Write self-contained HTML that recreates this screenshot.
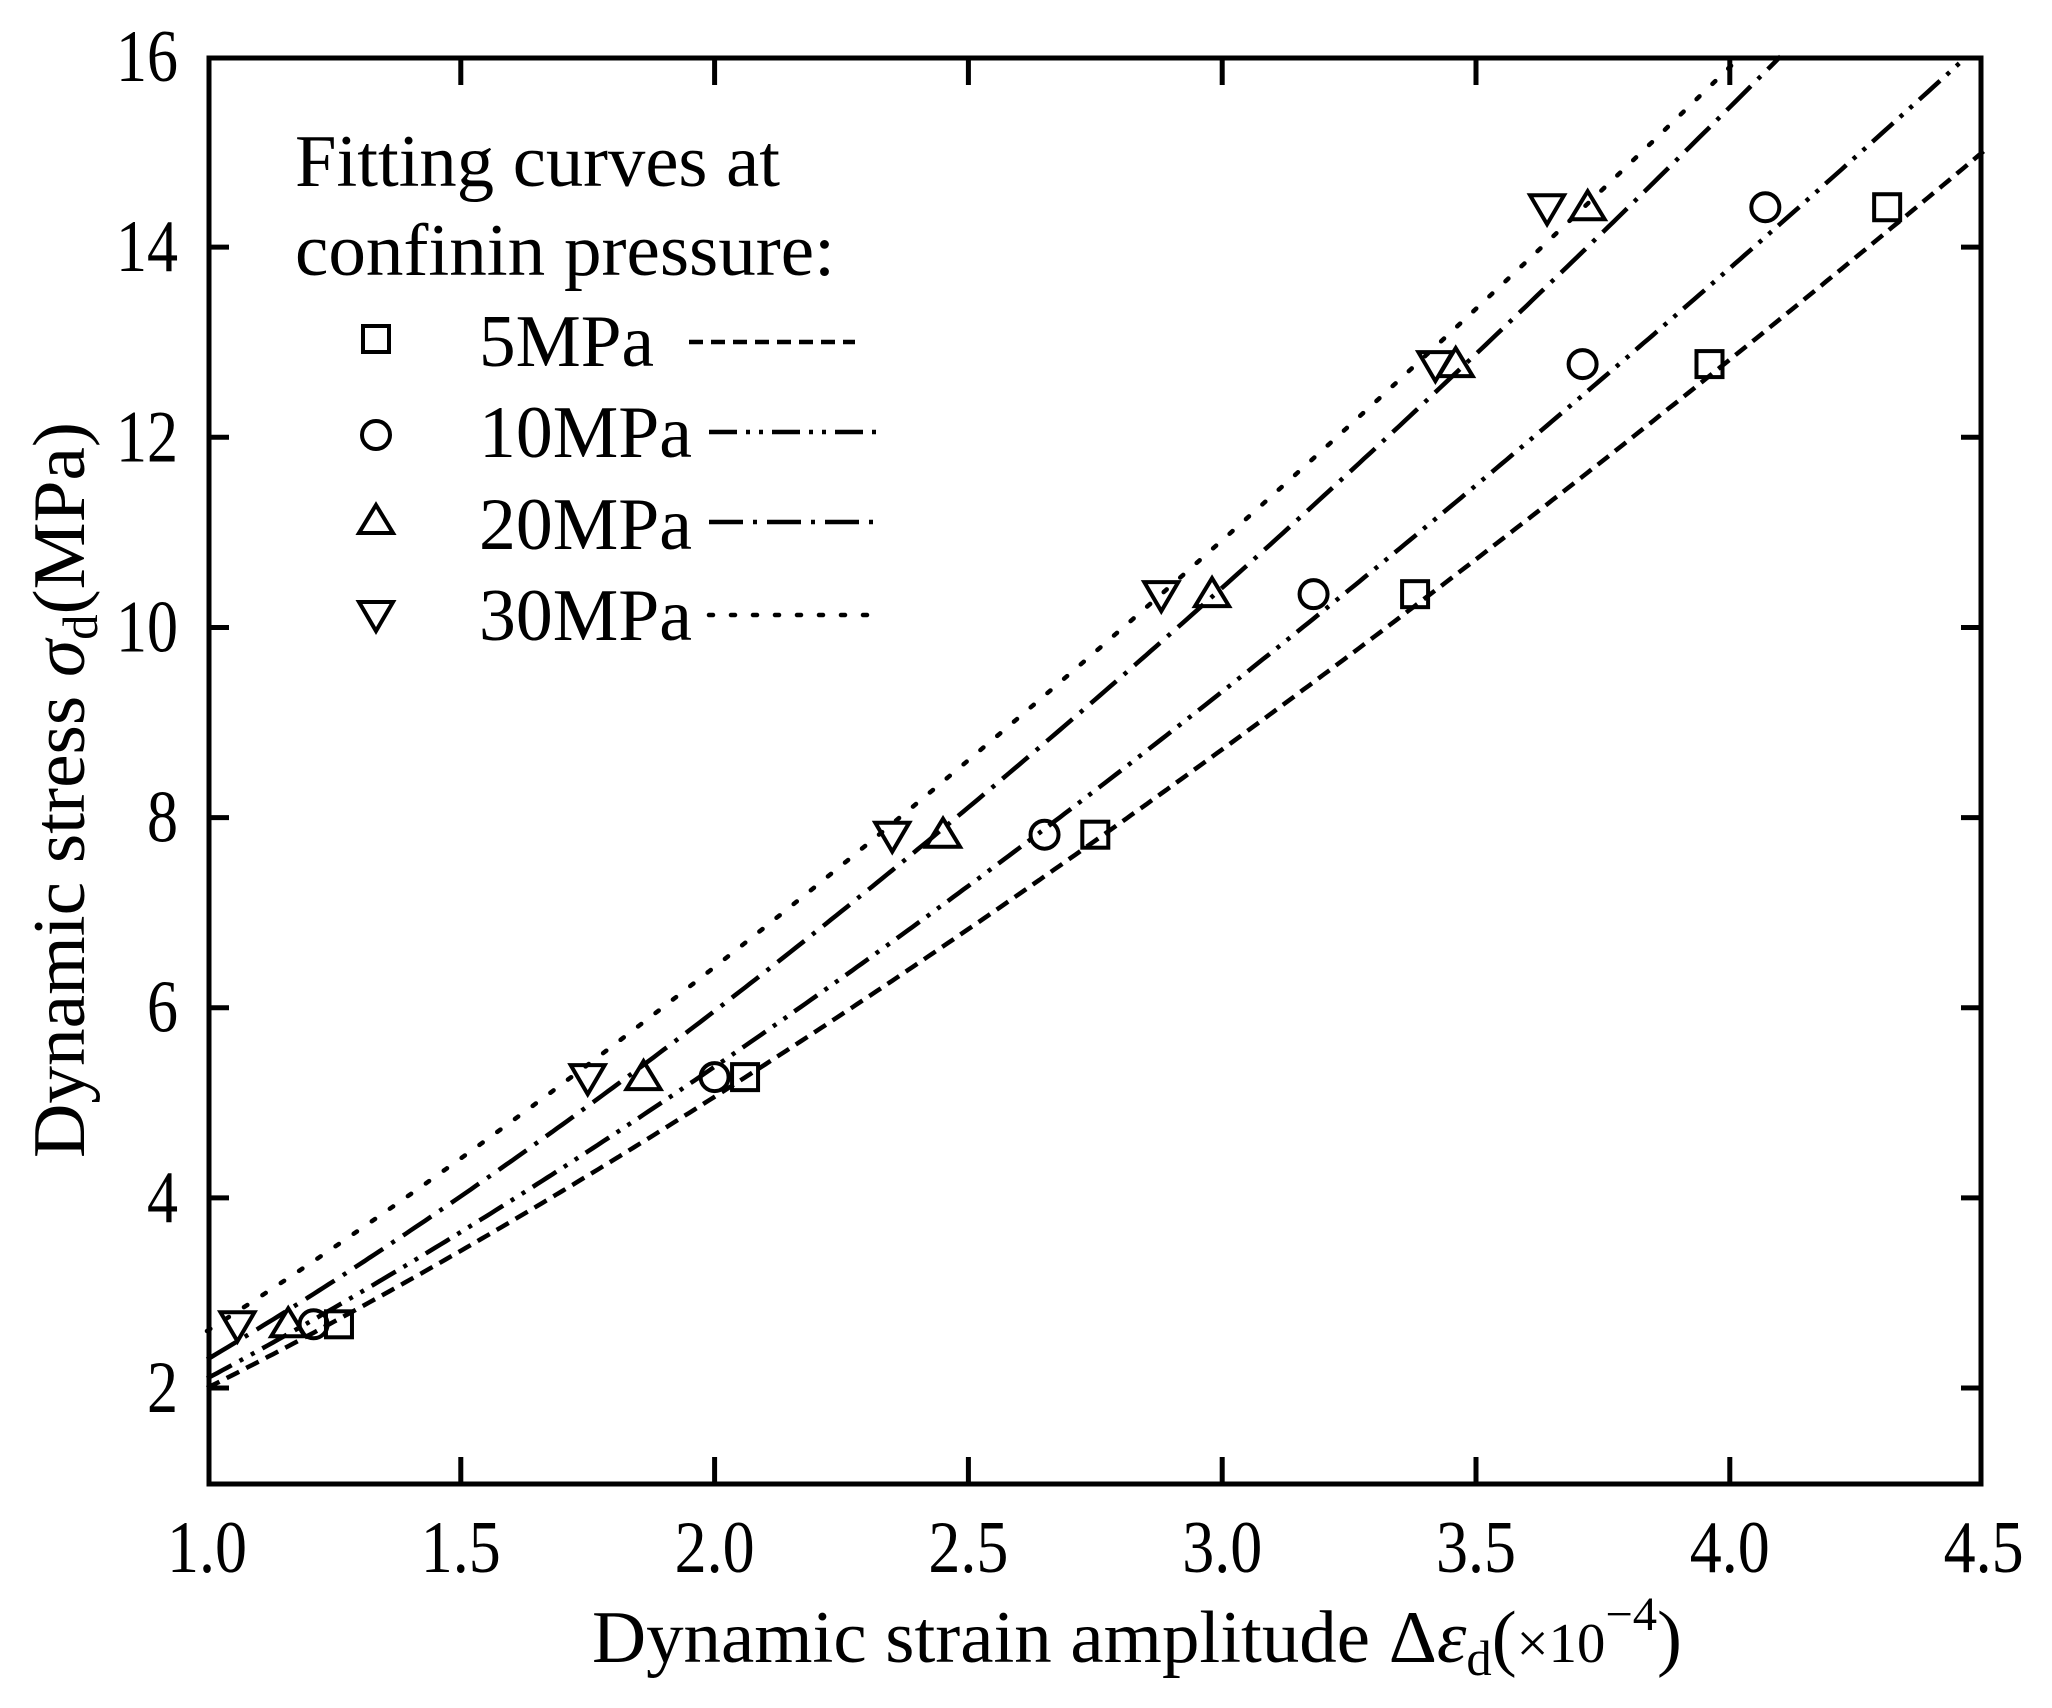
<!DOCTYPE html>
<html><head><meta charset="utf-8"><style>html,body{margin:0;padding:0;background:#fff}svg{display:block}</style></head>
<body>
<svg id="s" width="2052" height="1708" viewBox="0 0 2052 1708" xmlns="http://www.w3.org/2000/svg" font-family="Liberation Serif, serif">
<g id="curves" fill="none" stroke="#000" stroke-width="4.5"></g>
<g id="marks" fill="none" stroke="#000" stroke-width="4"></g>
<rect x="209" y="58" width="1772" height="1426" fill="none" stroke="#000" stroke-width="5"/>
<g id="ticks" stroke="#000" stroke-width="5"></g>
<g id="lab" font-size="74" fill="#000"></g>
<!-- legend -->
<g font-size="74" fill="#000">
<text x="295" y="186" textLength="485" lengthAdjust="spacingAndGlyphs">Fitting curves at</text>
<text x="295" y="275" textLength="540" lengthAdjust="spacingAndGlyphs">confinin pressure:</text>
<text x="479" y="366" textLength="175" lengthAdjust="spacingAndGlyphs">5MPa</text>
<text x="479" y="457" textLength="213" lengthAdjust="spacingAndGlyphs">10MPa</text>
<text x="479" y="549" textLength="213" lengthAdjust="spacingAndGlyphs">20MPa</text>
<text x="479" y="640" textLength="213" lengthAdjust="spacingAndGlyphs">30MPa</text>
</g>
<g fill="none" stroke="#000" stroke-width="4.5">
<line x1="689" y1="342" x2="855" y2="342" stroke-dasharray="14 8"/>
<line x1="709" y1="432" x2="878" y2="432" stroke-dasharray="28 9 4 9 4 9"/>
<line x1="709" y1="522" x2="878" y2="522" stroke-dasharray="34 10 4 10"/>
<line x1="709" y1="615" x2="878" y2="615" stroke-dasharray="4 18" stroke-linecap="round"/>
</g>
<g fill="none" stroke="#000" stroke-width="4">
<rect x="363" y="326" width="26" height="26"/>
<circle cx="376" cy="435" r="14"/>
<polygon points="376,505 393,533 359,533"/>
<polygon points="359,602 393,602 376,631"/>
</g>
<text x="84" y="790" font-size="74" text-anchor="middle" textLength="736" lengthAdjust="spacingAndGlyphs" transform="rotate(-90 84 790)">Dynamic stress <tspan font-style="italic">σ</tspan><tspan font-size="50" dy="13">d</tspan><tspan dy="-13">(MPa)</tspan></text>
<text x="1137" y="1662" font-size="74" text-anchor="middle" textLength="1090" lengthAdjust="spacingAndGlyphs">Dynamic strain amplitude Δ<tspan font-style="italic">ε</tspan><tspan font-size="50" dy="13">d</tspan><tspan dy="-13">(</tspan><tspan font-size="56">×10</tspan><tspan font-size="48" dy="-32">−4</tspan><tspan dy="32">)</tspan></text>
</svg>
<script>
var NS="http://www.w3.org/2000/svg";
function X(v){return 207+(v-1)*507.6}
function Y(v){return 1388-(v-2)*95.07}
function el(p,t,a){var e=document.createElementNS(NS,t);for(var k in a)e.setAttribute(k,a[k]);document.getElementById(p).appendChild(e);return e}
for(var i=0;i<=7;i++){var v=1+i*0.5,x=X(v);
 if(i>0&&i<7){el("ticks","line",{x1:x,y1:1484,x2:x,y2:1457});el("ticks","line",{x1:x,y1:58,x2:x,y2:85});}
 var t=el("lab","text",{x:x,y:1572,"text-anchor":"middle",textLength:80,lengthAdjust:"spacingAndGlyphs"});t.textContent=v.toFixed(1);}
for(var v=2;v<=16;v+=2){var y=Y(v);
 if(v<16){el("ticks","line",{x1:209,y1:y,x2:229,y2:y});el("ticks","line",{x1:1981,y1:y,x2:1961,y2:y});}
 var t=el("lab","text",{x:178,y:y+24,"text-anchor":"end",textLength:(v<10?31:62),lengthAdjust:"spacingAndGlyphs"});t.textContent=v;}
var C=[[2.0,1.34,"14 8","butt"],[2.1,1.357,"28 9 4 9 4 9","butt"],[2.3,1.375,"34 10 4 10","butt"],[2.6,1.306,"4 18","round"]];
C.forEach(function(c){var d="";for(var x=1;x<=4.5;x+=0.01){var y=c[0]*Math.pow(x,c[1]);if(y>16.02)break;d+=(d?"L":"M")+X(x).toFixed(1)+","+Y(y).toFixed(1);}
 el("curves","path",{d:d,"stroke-dasharray":c[2],"stroke-linecap":c[3]});});
var ys=[2.67,5.27,7.82,10.35,12.77,14.42];
var S=[[1.26,2.06,2.75,3.38,3.96,4.31],[1.21,2.00,2.65,3.18,3.71,4.07],[1.16,1.86,2.45,2.98,3.46,3.72],[1.06,1.75,2.35,2.88,3.42,3.64]];
S.forEach(function(xs,k){xs.forEach(function(xv,j){var x=X(xv),y=Y(ys[j]);
 if(k==0)el("marks","rect",{x:x-13,y:y-13,width:26,height:26});
 else if(k==1)el("marks","circle",{cx:x,cy:y,r:14});
 else if(k==2)el("marks","polygon",{points:x+","+(y-16)+" "+(x+17)+","+(y+12)+" "+(x-17)+","+(y+12)});
 else el("marks","polygon",{points:(x-17)+","+(y-12)+" "+(x+17)+","+(y-12)+" "+x+","+(y+17)});
});});
</script>
</body></html>
